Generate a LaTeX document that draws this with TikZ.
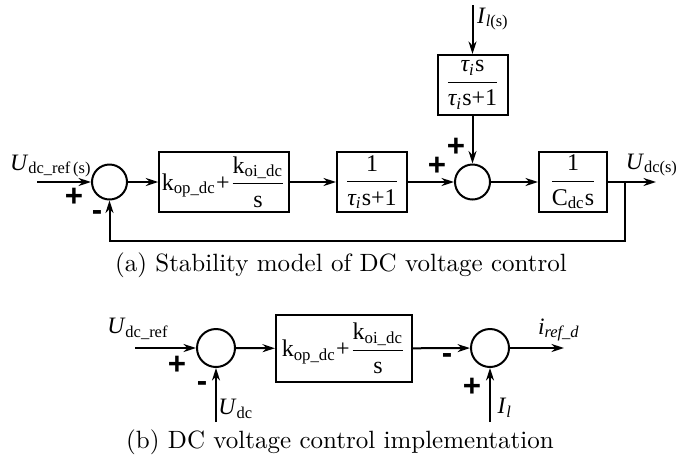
\documentclass[tikz,border=0pt]{standalone}
\usepackage{amsmath}
\usepackage{fontspec}
\newfontfamily\tnr{Liberation Serif}
\newfontfamily\arl{Liberation Sans}
\usepackage{tikz}
\usetikzlibrary{arrows.meta}
\tikzset{>={Stealth[length=5pt,width=3.2pt]}}
\tikzset{blk/.style={draw, line width=0.8pt, inner sep=1pt, font=\tnr\fontsize{9.6}{11}\selectfont},
  summ/.style={draw, circle, line width=0.8pt, inner sep=0pt},
  sgn/.style={inner sep=0pt, font=\arl\bfseries\fontsize{12.5}{13}\selectfont},
  lbl/.style={inner sep=0pt, font=\tnr\fontsize{9.4}{11}\selectfont}}

\begin{document}
\begin{tikzpicture}[x=0.4pt, y=-0.4pt, line width=0.8pt]
\useasboundingbox (0,0) rectangle (679,462);
% (a) stability model
\node (sum1) at (109.5,182) [summ, minimum size=14pt] {};
\node (kpi) at (224,182) [blk, minimum width=48.8pt, minimum height=24pt] {k\textsubscript{op\_dc}+$\dfrac{\text{\tnr k\textsubscript{oi\_dc}}}{\text{\tnr s}}$};
\node (lag) at (372,182) [blk, minimum width=28pt, minimum height=24pt] {$\dfrac{\text{\tnr 1}}{\text{\tnr\textit{τ\textsubscript{i}}s+1}}$};
\node (sum2) at (472.5,182) [summ, minimum size=14pt] {};
\node (hp) at (472.5,85) [blk, minimum width=28pt, minimum height=24pt] {$\dfrac{\text{\tnr\textit{τ\textsubscript{i}}s}}{\text{\tnr\textit{τ\textsubscript{i}}s+1}}$};
\node (cap) at (573,182) [blk, minimum width=27.2pt, minimum height=24pt] {$\dfrac{\text{\tnr 1}}{\text{\tnr C\textsubscript{dc}s}}$};
\coordinate (in1) at (37,182);
\coordinate (il1) at (472.5,5);
\coordinate (br) at (625,182);
\coordinate (out1) at (656,182);
\coordinate (fb) at (625,241);
\draw[->] (in1) -- (sum1);
\draw[->] (sum1) -- (kpi);
\draw[->] (kpi) -- (lag);
\draw[->] (lag) -- (sum2);
\draw[->] (il1) -- (hp);
\draw[->] (hp) -- (sum2);
\draw[->] (sum2) -- (cap);
\draw[->] (cap) -- (out1);
\draw[->] (br) -- (fb) -| (sum1.south);
\node (uref1) at (51,166) [lbl] {\textit{U}\textsubscript{dc\_ref\,(s)}};
\node (udc1) at (652,165) [lbl] {\textit{U}\textsubscript{dc(s)}};
\node (il1lbl) at (493,19) [lbl] {\textit{I}\textsubscript{\textit{l}(s)}};
\node (p1) at (74,197) [sgn] {+};
\node (m1) at (97,216) [sgn] {-};
\node (p2) at (437,166) [sgn] {+};
\node (p3) at (456,147) [sgn] {+};
\node (capa) at (341,265) [inner sep=0pt] {(a) Stability model of DC voltage control};
% (b) implementation
\node (sum3) at (216,348) [summ, minimum size=15.2pt] {};
\node (pi) at (344,348.5) [blk, minimum width=54.4pt, minimum height=26.8pt] {k\textsubscript{op\_dc}+$\dfrac{\text{\tnr k\textsubscript{oi\_dc}}}{\text{\tnr s}}$};
\node (sum4) at (490,348) [summ, minimum size=15.2pt] {};
\coordinate (in2) at (135,348);
\coordinate (udc) at (216,422);
\coordinate (il2) at (490,422);
\coordinate (out2) at (564,348);
\draw[->] (in2) -- (sum3);
\draw[->] (udc) -- (sum3);
\draw[->] (sum3) -- (pi);
\draw[->] (pi) -- (sum4);
\draw[->] (il2) -- (sum4);
\draw[->] (sum4) -- (out2);
\node (uref2) at (138,329) [lbl] {\textit{U}\textsubscript{dc\_ref}};
\node (udc2) at (236,409) [lbl] {\textit{U}\textsubscript{dc}};
\node (il2lbl) at (505,408) [lbl] {\textit{I}\textsubscript{\textit{l}}};
\node (iref) at (559,330) [lbl] {\textit{i}\textsubscript{\textit{ref\_d}}};
\node (p4) at (177,365) [sgn] {+};
\node (m2) at (202,387) [sgn] {-};
\node (m3) at (447,359) [sgn] {-};
\node (p5) at (472,387) [sgn] {+};
\node (capb) at (340,442) [inner sep=0pt] {(b) DC voltage control implementation};
\end{tikzpicture}
\end{document}
